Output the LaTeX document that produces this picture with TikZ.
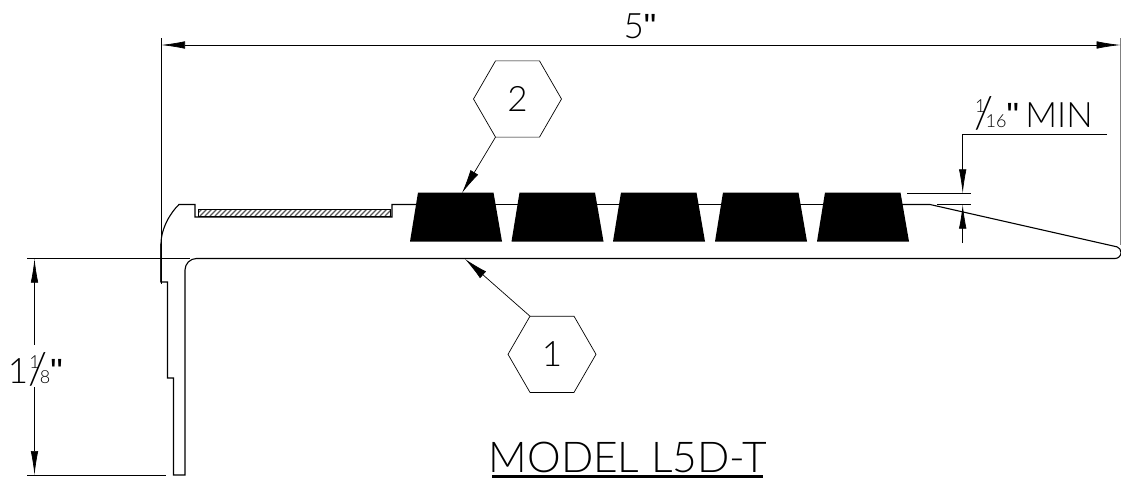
\documentclass[tikz,border=0pt]{standalone}
\usepackage{fontspec}
\setmainfont[UprightFont=* Light]{Lato}
\newfontfamily\quotefont{Liberation Sans}
\usetikzlibrary{arrows.meta,shapes.geometric}
\newcommand{\fracA}[2]{\rlap{\kern1pt\raisebox{15pt}{\fontsize{18}{18}\selectfont #1}}\raisebox{-1pt}{\fontsize{44}{44}\selectfont /}\kern-7.5pt{\fontsize{18}{18}\selectfont #2}}
\newcommand{\inchmark}{{\quotefont "}}
\tikzset{
  profile/.style={line width=1.1pt,line join=miter},
  dimline/.style={line width=.7pt},
  dimarrow/.style={line width=.7pt,{Latex[length=24pt,width=7.5pt]}-{Latex[length=24pt,width=7.5pt]}},
  leader/.style={line width=.7pt,-{Latex[length=24pt,width=9pt]}},
  hexagon/.style={draw,line width=.7pt,regular polygon,regular polygon sides=6,minimum size=88pt,inner sep=0pt,outer sep=0pt,font=\fontsize{35}{35}\selectfont},
  pad/.style={fill=black},
  label/.style={inner sep=0pt,outer sep=0pt,anchor=base,font=\fontsize{35}{35}\selectfont},
}
\begin{document}
\begin{tikzpicture}[x=1pt,y=-1pt]
\path[use as bounding box,fill=white] (0,0) rectangle (1121,482);
% profile
\draw[profile] (161,282) -- (161,244) .. controls (161,228) and (171,212) .. (179,204.5) -- (195,204.5) -- (195,217) -- (392,217) -- (392,204.5) -- (416,204.5);
\draw[profile] (161,244) -- (161,282) -- (167.5,282) -- (167.5,378) -- (173.5,378) -- (173.5,475) -- (185,475) -- (185,270) arc (180:270:11.5) -- (1115,258.5) arc (90:-70:6) -- (930,204.5) -- (900,204.5);
\foreach \xa in {490,591.5,693,794.5}
  \draw[profile] (\xa,204.5) -- (\xa+32,204.5);
% inlay
\begin{scope}
\clip (198,209.5) rectangle (390,216);
\foreach \xa in {190,195,...,390}
  \draw[line width=1.3pt,black!65] (\xa,216) -- (\xa+6.5,209.5);
\end{scope}
\draw[line width=1pt] (198,209.5) rectangle (390,216);
% pads
\foreach \xa in {410,511.5,613,715,817}
  \fill[pad] (\xa+8,192.5) -- (\xa+83.5,192.5) -- (\xa+92,241.5) -- (\xa,241.5) -- cycle;
% dimensions
\coordinate (wL) at (161,45);
\coordinate (wR) at (1120.5,45);
\coordinate (hT) at (34.5,258.7);
\coordinate (hB) at (34.5,475);
\draw[dimline] (161,38) -- (161,284);
\draw[dimline,gray] (1120.5,38) -- (1120.5,245);
\draw[dimline] (27,258.7) -- (190,258.7);
\draw[dimline] (27,475) -- (166,475);
\draw[dimarrow] (wL) -- (wR);
\draw[dimarrow] (hT) -- (hB);
\fill[white] (8,345) rectangle (62,387);
\node[label] (width) at (640,38) {5\inchmark};
\node[label,anchor=base west] (height) at (8,383) {1\fracA{1}{8}\inchmark};
% min thickness
\draw[dimline] (907,193.3) -- (971,193.3);
\draw[dimline] (937,204.6) -- (971,204.6);
\coordinate (tT) at (962.7,193.3);
\coordinate (tB) at (962.7,204.6);
\draw[dimline,-{Latex[length=24pt,width=7.5pt]}] (1107,134.7) -- (962.7,134.7) -- (tT);
\draw[dimline,-{Latex[length=24pt,width=7.5pt]}] (962.7,243) -- (tB);
\node[label,anchor=base west] (minlabel) at (974,127.5) {\fracA{1}{16}\inchmark\kern-3pt{} MIN};
% callouts
\node[hexagon] (hexB) at (517.5,99) {2};
\node[hexagon] (hexA) at (552,354.3) {1};
\coordinate (tipB) at (462,193);
\coordinate (tipA) at (465,259);
\draw[leader] (hexB.240) -- (tipB);
\draw[leader] (hexA.120) -- (tipA);
% title
\node[label,font=\fontsize{42.5}{42.5}\selectfont] (title) at (628,472) {MODEL L5D-T};
\draw[line width=3pt] (492,476.3) -- (762.7,476.3);
\end{tikzpicture}
\end{document}
